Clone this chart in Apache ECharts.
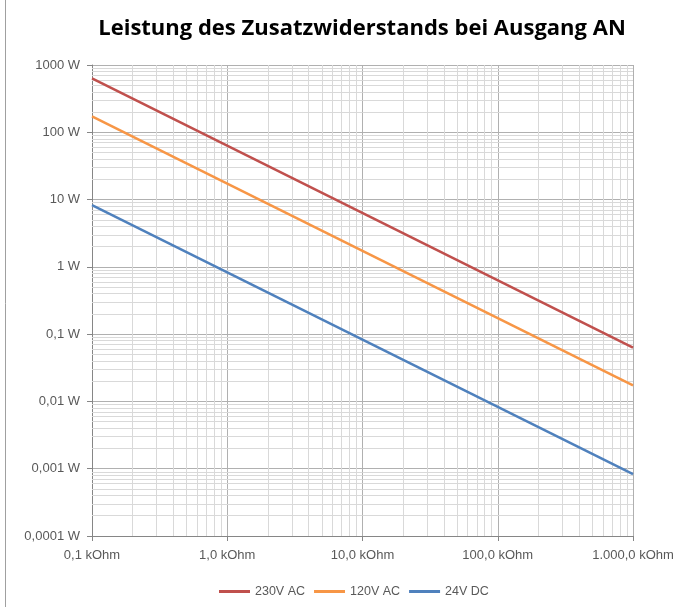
<!DOCTYPE html>
<html lang="de">
<head>
<meta charset="UTF-8">
<title>Leistung des Zusatzwiderstands</title>
<script src="https://cdn.jsdelivr.net/npm/echarts@6/dist/echarts.min.js"></script>
<style>
  html, body { margin: 0; padding: 0; background: #fff; }
  #main { width: 678px; height: 607px; }
</style>
</head>
<body>
<div id="main"></div>
<script>
// values (kOhm -> W), straight lines on log-log
const seriesNames = ['230V AC', '120V AC', '24V DC'];
const resistance = [0.1, 1000];
const power230 = [635, 0.063];
const power120 = [172, 0.0173];
const power24 = [8.3, 0.00083];
const colors = ['#C0504D', '#F79646', '#4F81BD'];

// axis range and minor gridline steps (2..9 in every decade)
const xRange = [0.1, 1000];
const yRange = [0.0001, 1000];
const minorSteps = [2, 3, 4, 5, 6, 7, 8, 9];
const xDecades = [0.1, 1, 10, 100];
const yDecades = [0.0001, 0.001, 0.01, 0.1, 1, 10, 100];

const minorLines = [];
xDecades.forEach(d => minorSteps.forEach(s => {
    const v = Number((d * s).toPrecision(2));
    minorLines.push({ coords: [[v, yRange[0]], [v, yRange[1]]] });
}));
yDecades.forEach(d => minorSteps.forEach(s => {
    const v = Number((d * s).toPrecision(2));
    minorLines.push({ coords: [[xRange[0], v], [xRange[1], v]] });
}));

function fmtX(v) {
    const s = Number(v.toPrecision(3)).toFixed(1);
    let [i, f] = s.split('.');
    i = i.replace(/\B(?=(\d{3})+(?!\d))/g, '.');
    return i + ',' + f + ' kOhm';
}
function fmtY(v) {
    return String(Number(v.toPrecision(2))).replace('.', ',') + ' W';
}

const labelFont = { fontFamily: 'Liberation Sans', fontSize: 13, color: '#595959' };

const pairs = arr => resistance.map((r, i) => [r, arr[i]]);
const lineSeries = [power230, power120, power24].map((arr, i) => ({
    name: seriesNames[i],
    type: 'line',
    data: pairs(arr),
    showSymbol: false,
    symbol: 'none',
    lineStyle: { width: 2.5, color: colors[i] },
    itemStyle: { color: colors[i] },
    z: 5
}));

const chart = echarts.init(document.getElementById('main'));
chart.setOption({
    animation: false,
    backgroundColor: '#fff',
    title: {
        text: 'Leistung des Zusatzwiderstands bei Ausgang AN',
        left: 357,
        textAlign: 'center',
        top: 13,
        textStyle: { fontFamily: 'Open Sans', fontSize: 22, fontWeight: 'bold', color: '#000' }
    },
    legend: {
        data: seriesNames,
        top: 580,
        left: 214,
        icon: 'rect',
        itemWidth: 31,
        itemHeight: 3,
        itemGap: 9,
        textStyle: { fontFamily: 'Liberation Sans', fontSize: 12.5, color: '#595959' }
    },
    grid: { left: 92, right: 45, top: 65, bottom: 71 },
    xAxis: {
        type: 'log',
        logBase: 10,
        min: xRange[0],
        max: xRange[1],
        axisLine: { lineStyle: { color: '#868686' } },
        axisTick: { show: true, length: 5, lineStyle: { color: '#868686' } },
        axisLabel: Object.assign({ formatter: fmtX, margin: 13 }, labelFont),
        splitLine: { show: true, lineStyle: { color: '#b0b0b0', width: 1 } }
    },
    yAxis: {
        type: 'log',
        logBase: 10,
        min: yRange[0],
        max: yRange[1],
        axisLine: { show: true, lineStyle: { color: '#868686' } },
        axisTick: { show: true, length: 5, lineStyle: { color: '#868686' } },
        axisLabel: Object.assign({ formatter: fmtY, margin: 12 }, labelFont),
        splitLine: { show: true, lineStyle: { color: '#b0b0b0', width: 1 } }
    },
    graphic: [{
        type: 'line',
        shape: { x1: 5.5, y1: 0, x2: 5.5, y2: 607 },
        style: { stroke: '#a0a0a0', lineWidth: 1 }
    }],
    series: [{
        name: 'minor grid',
        type: 'lines',
        coordinateSystem: 'cartesian2d',
        silent: true,
        symbol: 'none',
        lineStyle: { color: '#d9d9d9', width: 1, opacity: 1 },
        data: minorLines,
        z: 1
    }].concat(lineSeries)
});
</script>
</body>
</html>
